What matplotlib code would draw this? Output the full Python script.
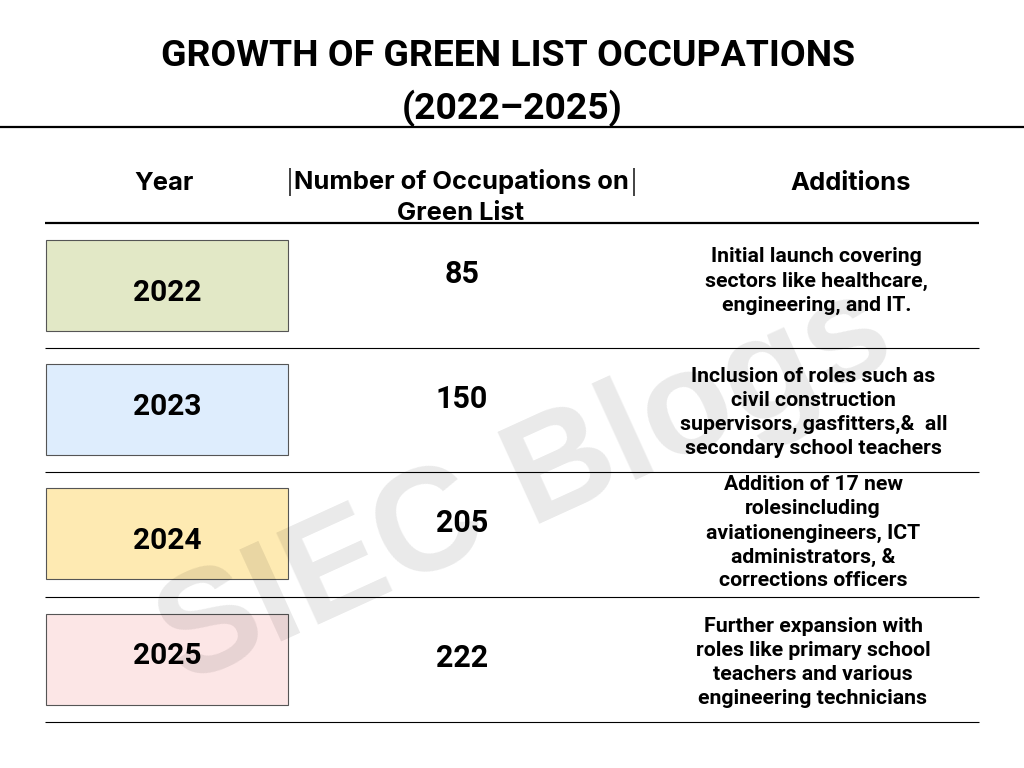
import matplotlib
matplotlib.use("Agg")
import matplotlib.pyplot as plt
from matplotlib.patches import Rectangle

plt.rcParams["font.family"] = ["Roboto", "DejaVu Sans"]

title_lines = ["GROWTH OF GREEN LIST OCCUPATIONS", "(2022\u20132025)"]
years = ["2022", "2023", "2024", "2025"]
counts = ["85", "150", "205", "222"]
additions = [
    ["Initial launch covering", "sectors like healthcare,", "engineering, and IT."],
    ["Inclusion of roles such as", "civil construction", "supervisors, gasfitters,&  all", "secondary school teachers"],
    ["Addition of 17 new", "rolesincluding", "aviationengineers, ICT", "administrators, &", "corrections officers"],
    ["Further expansion with", "roles like primary school", "teachers and various", "engineering technicians"],
]
box_colors = ["#e2e8c6", "#deedfd", "#feeab2", "#fce6e6"]
box_tops = [240, 364, 488, 614]
year_y = [293, 407, 541, 656]
count_y = [274, 399, 523, 658]
add_x = [816.5, 813.5, 813, 813]
add_y = [281, 412, 533, 662]
rule_y = [223, 348, 472, 597, 722]

fig = plt.figure(figsize=(10.24, 7.68), dpi=100)
ax = fig.add_axes([0, 0, 1, 1])
ax.set_xlim(0, 1024)
ax.set_ylim(768, 0)
ax.axis("off")

# watermark sits on top of the boxes, semi transparent
ax.text(526, 489, "SIEC Blogs", fontsize=105, fontweight="bold", color="black", alpha=0.085,
        family=["Liberation Sans"], rotation=24.5, ha="center", va="center",
        rotation_mode="anchor", zorder=5)

ax.text(508, 56, title_lines[0], fontsize=26.9, fontweight="bold", ha="center", va="center")
ax.text(512, 108, title_lines[1], fontsize=26.9, fontweight="bold", ha="center", va="center")
ax.plot([0, 1024], [126.5, 126.5], color="black", lw=1.6, solid_capstyle="butt")

ax.text(164, 183.5, "Year", fontsize=18.4, fontweight="bold", family=["Inter"], ha="center", va="center")
ax.text(461.5, 181, "Number of Occupations on", fontsize=18.4, fontweight="bold", family=["Inter"], ha="center", va="center")
ax.text(461, 214, "Green List", fontsize=18.4, fontweight="bold", family=["Inter"], ha="center", va="center")
ax.text(851, 184, "Additions", fontsize=18.4, fontweight="bold", family=["Inter"], ha="center", va="center")
ax.plot([289.5, 289.5], [168, 196], color="#222222", lw=1.2, solid_capstyle="butt")
ax.plot([634, 634], [168, 196], color="#222222", lw=1.2, solid_capstyle="butt")

for i, y in enumerate(rule_y):
    ax.plot([45, 979], [y, y], color="black", lw=1.6 if i == 0 else 0.8, solid_capstyle="butt")

for i, year in enumerate(years):
    ax.add_patch(Rectangle((46, box_tops[i]), 241.5, 91, facecolor=box_colors[i],
                           edgecolor="#555555", lw=0.8, zorder=2))
    ax.text(167, year_y[i], year, fontsize=21.5, fontweight="bold", ha="center", va="center", zorder=3)
    ax.text(462, count_y[i], counts[i], fontsize=22, fontweight="bold", ha="center", va="center", zorder=3)
    lines = additions[i]
    top = add_y[i] - (len(lines) - 1) * 12
    for j, line in enumerate(lines):
        ax.text(add_x[i], top + j * 24, line, fontsize=15.3, fontweight="bold", ha="center", va="center", zorder=3)

fig.savefig("out.png", dpi=100)
